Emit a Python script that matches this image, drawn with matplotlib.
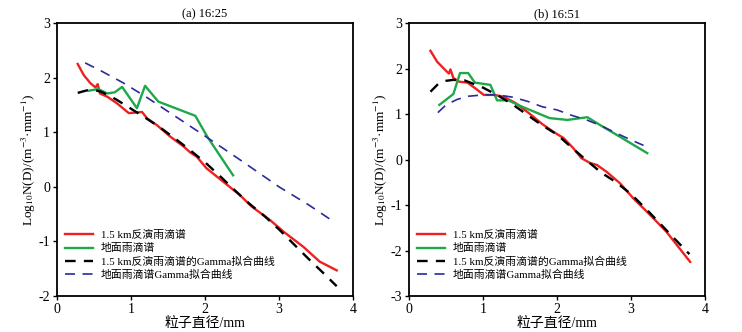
"""Raindrop size distributions at 1.5 km vs ground, two times."""

import matplotlib

matplotlib.use("Agg")
import matplotlib.pyplot as plt

plt.rcParams["font.family"] = ["Liberation Serif", "Noto Sans CJK SC"]
plt.rcParams["mathtext.fontset"] = "stix"
plt.rcParams["axes.unicode_minus"] = False

# ---- panel (a) 16:25 ----
a_red_d = [0.28, 0.36, 0.45, 0.52, 0.55, 0.58, 0.68, 0.81, 0.97, 1.06, 1.15, 1.22,
           1.35, 1.53, 1.71, 1.80, 1.89, 2.02, 2.25, 2.47, 2.63, 2.88, 3.06, 3.33,
           3.55, 3.78]
a_red_n = [2.25, 2.05, 1.90, 1.82, 1.88, 1.71, 1.65, 1.53, 1.35, 1.36, 1.37, 1.25,
           1.13, 0.92, 0.74, 0.63, 0.55, 0.34, 0.09, -0.15, -0.36, -0.61, -0.82,
           -1.10, -1.37, -1.53]

a_green_d = [0.43, 0.56, 0.68, 0.78, 0.88, 1.08, 1.19, 1.37, 1.87, 2.03, 2.38]
a_green_n = [1.76, 1.79, 1.71, 1.73, 1.83, 1.44, 1.85, 1.56, 1.30, 0.92, 0.21]

a_black_d = [0.28, 0.40, 0.50, 0.60, 0.80, 1.00, 1.20, 1.40, 1.60, 1.80, 2.00,
             2.20, 2.40, 2.60, 2.80, 3.00, 3.20, 3.40, 3.60, 3.78]
a_black_n = [1.72, 1.765, 1.775, 1.74, 1.60, 1.43, 1.26, 1.08, 0.88, 0.67, 0.45,
             0.20, -0.06, -0.31, -0.53, -0.78, -1.05, -1.32, -1.58, -1.82]

a_blue_d = [0.38, 0.60, 0.90, 1.20, 1.50, 2.00, 2.50, 3.00, 3.40, 3.73]
a_blue_n = [2.27, 2.12, 1.90, 1.65, 1.38, 0.93, 0.47, 0.00, -0.33, -0.63]

# ---- panel (b) 16:51 ----
b_red_d = [0.29, 0.38, 0.50, 0.54, 0.56, 0.60, 0.68, 0.79, 0.90, 1.01, 1.15, 1.28,
           1.44, 1.62, 1.80, 1.95, 2.09, 2.22, 2.33, 2.45, 2.54, 2.67, 2.85, 3.03,
           3.26, 3.48, 3.64, 3.80]
b_red_n = [2.39, 2.15, 1.95, 1.89, 1.98, 1.79, 1.71, 1.69, 1.56, 1.42, 1.42, 1.38,
           1.24, 1.02, 0.78, 0.61, 0.47, 0.25, 0.03, -0.08, -0.12, -0.27, -0.52,
           -0.85, -1.22, -1.59, -1.92, -2.25]

b_green_d = [0.41, 0.60, 0.69, 0.80, 0.89, 1.10, 1.19, 1.34, 1.53, 1.90, 2.14,
             2.41, 2.58, 2.85, 3.22]
b_green_n = [1.20, 1.44, 1.90, 1.90, 1.69, 1.64, 1.30, 1.30, 1.16, 0.91, 0.87,
             0.93, 0.76, 0.50, 0.14]

b_black_d = [0.29, 0.40, 0.50, 0.60, 0.75, 1.00, 1.20, 1.40, 1.60, 1.80, 2.00,
             2.20, 2.40, 2.60, 2.80, 3.00, 3.20, 3.40, 3.60, 3.79]
b_black_n = [1.49, 1.67, 1.73, 1.75, 1.74, 1.58, 1.41, 1.21, 0.98, 0.75, 0.55,
             0.26, -0.02, -0.29, -0.50, -0.76, -1.08, -1.42, -1.76, -2.08]

b_blue_d = [0.39, 0.50, 0.65, 0.80, 1.00, 1.20, 1.40, 1.60, 1.80, 2.00, 2.20,
            2.40, 2.60, 2.80, 3.00, 3.17]
b_blue_n = [1.03, 1.20, 1.32, 1.39, 1.42, 1.42, 1.37, 1.28, 1.16, 1.09, 0.97,
            0.87, 0.74, 0.58, 0.43, 0.31]

labels = ["1.5 km反演雨滴谱", "地面雨滴谱", "1.5 km反演雨滴谱的Gamma拟合曲线",
          "地面雨滴谱Gamma拟合曲线"]

panels = [
    ("(a) 16:25", (-2, 3), [-2, -1, 0, 1, 2, 3],
     (a_red_d, a_red_n), (a_green_d, a_green_n),
     (a_black_d, a_black_n), (a_blue_d, a_blue_n)),
    ("(b) 16:51", (-3, 3), [-3, -2, -1, 0, 1, 2, 3],
     (b_red_d, b_red_n), (b_green_d, b_green_n),
     (b_black_d, b_black_n), (b_blue_d, b_blue_n)),
]

fig = plt.figure(figsize=(7.42, 3.32), dpi=100)
lefts = [0.0768, 0.5512]

for left, (title, ylim, yticks, red, green, black, blue) in zip(lefts, panels):
    ax = fig.add_axes([left, 0.1084, 0.3989, 0.8223])
    ax.plot(*red, color="#ee2020", lw=1.7, label=labels[0])
    ax.plot(*green, color="#1fa84a", lw=1.7, label=labels[1])
    ax.plot(*black, color="black", lw=1.7, dashes=(4.5, 3.5), label=labels[2])
    ax.plot(*blue, color="#2b2b9a", lw=1.2, dashes=(6, 4.5), label=labels[3])

    ax.set_xlim(0, 4)
    ax.set_ylim(*ylim)
    ax.set_xticks([0, 1, 2, 3, 4])
    ax.set_yticks(yticks)
    ax.set_yticklabels([str(t) for t in yticks])
    ax.tick_params(direction="out", length=3, width=1, labelsize=10, pad=2)
    for sp in ax.spines.values():
        sp.set_linewidth(1.3)

    ax.set_title(title, fontsize=9, pad=4)
    ax.set_xlabel("粒子直径/mm", fontsize=10, labelpad=1)
    ax.set_ylabel(r"Log$_{10}$N(D)/(m$^{-3}$·mm$^{-1}$)", fontsize=9.5, labelpad=0)

    ax.legend(loc="lower left", bbox_to_anchor=(0.0, 0.03), frameon=False,
              fontsize=7.8, handlelength=2.6, handletextpad=0.75,
              labelspacing=0.28, borderaxespad=0.3)

fig.savefig("out.png", dpi=100)
